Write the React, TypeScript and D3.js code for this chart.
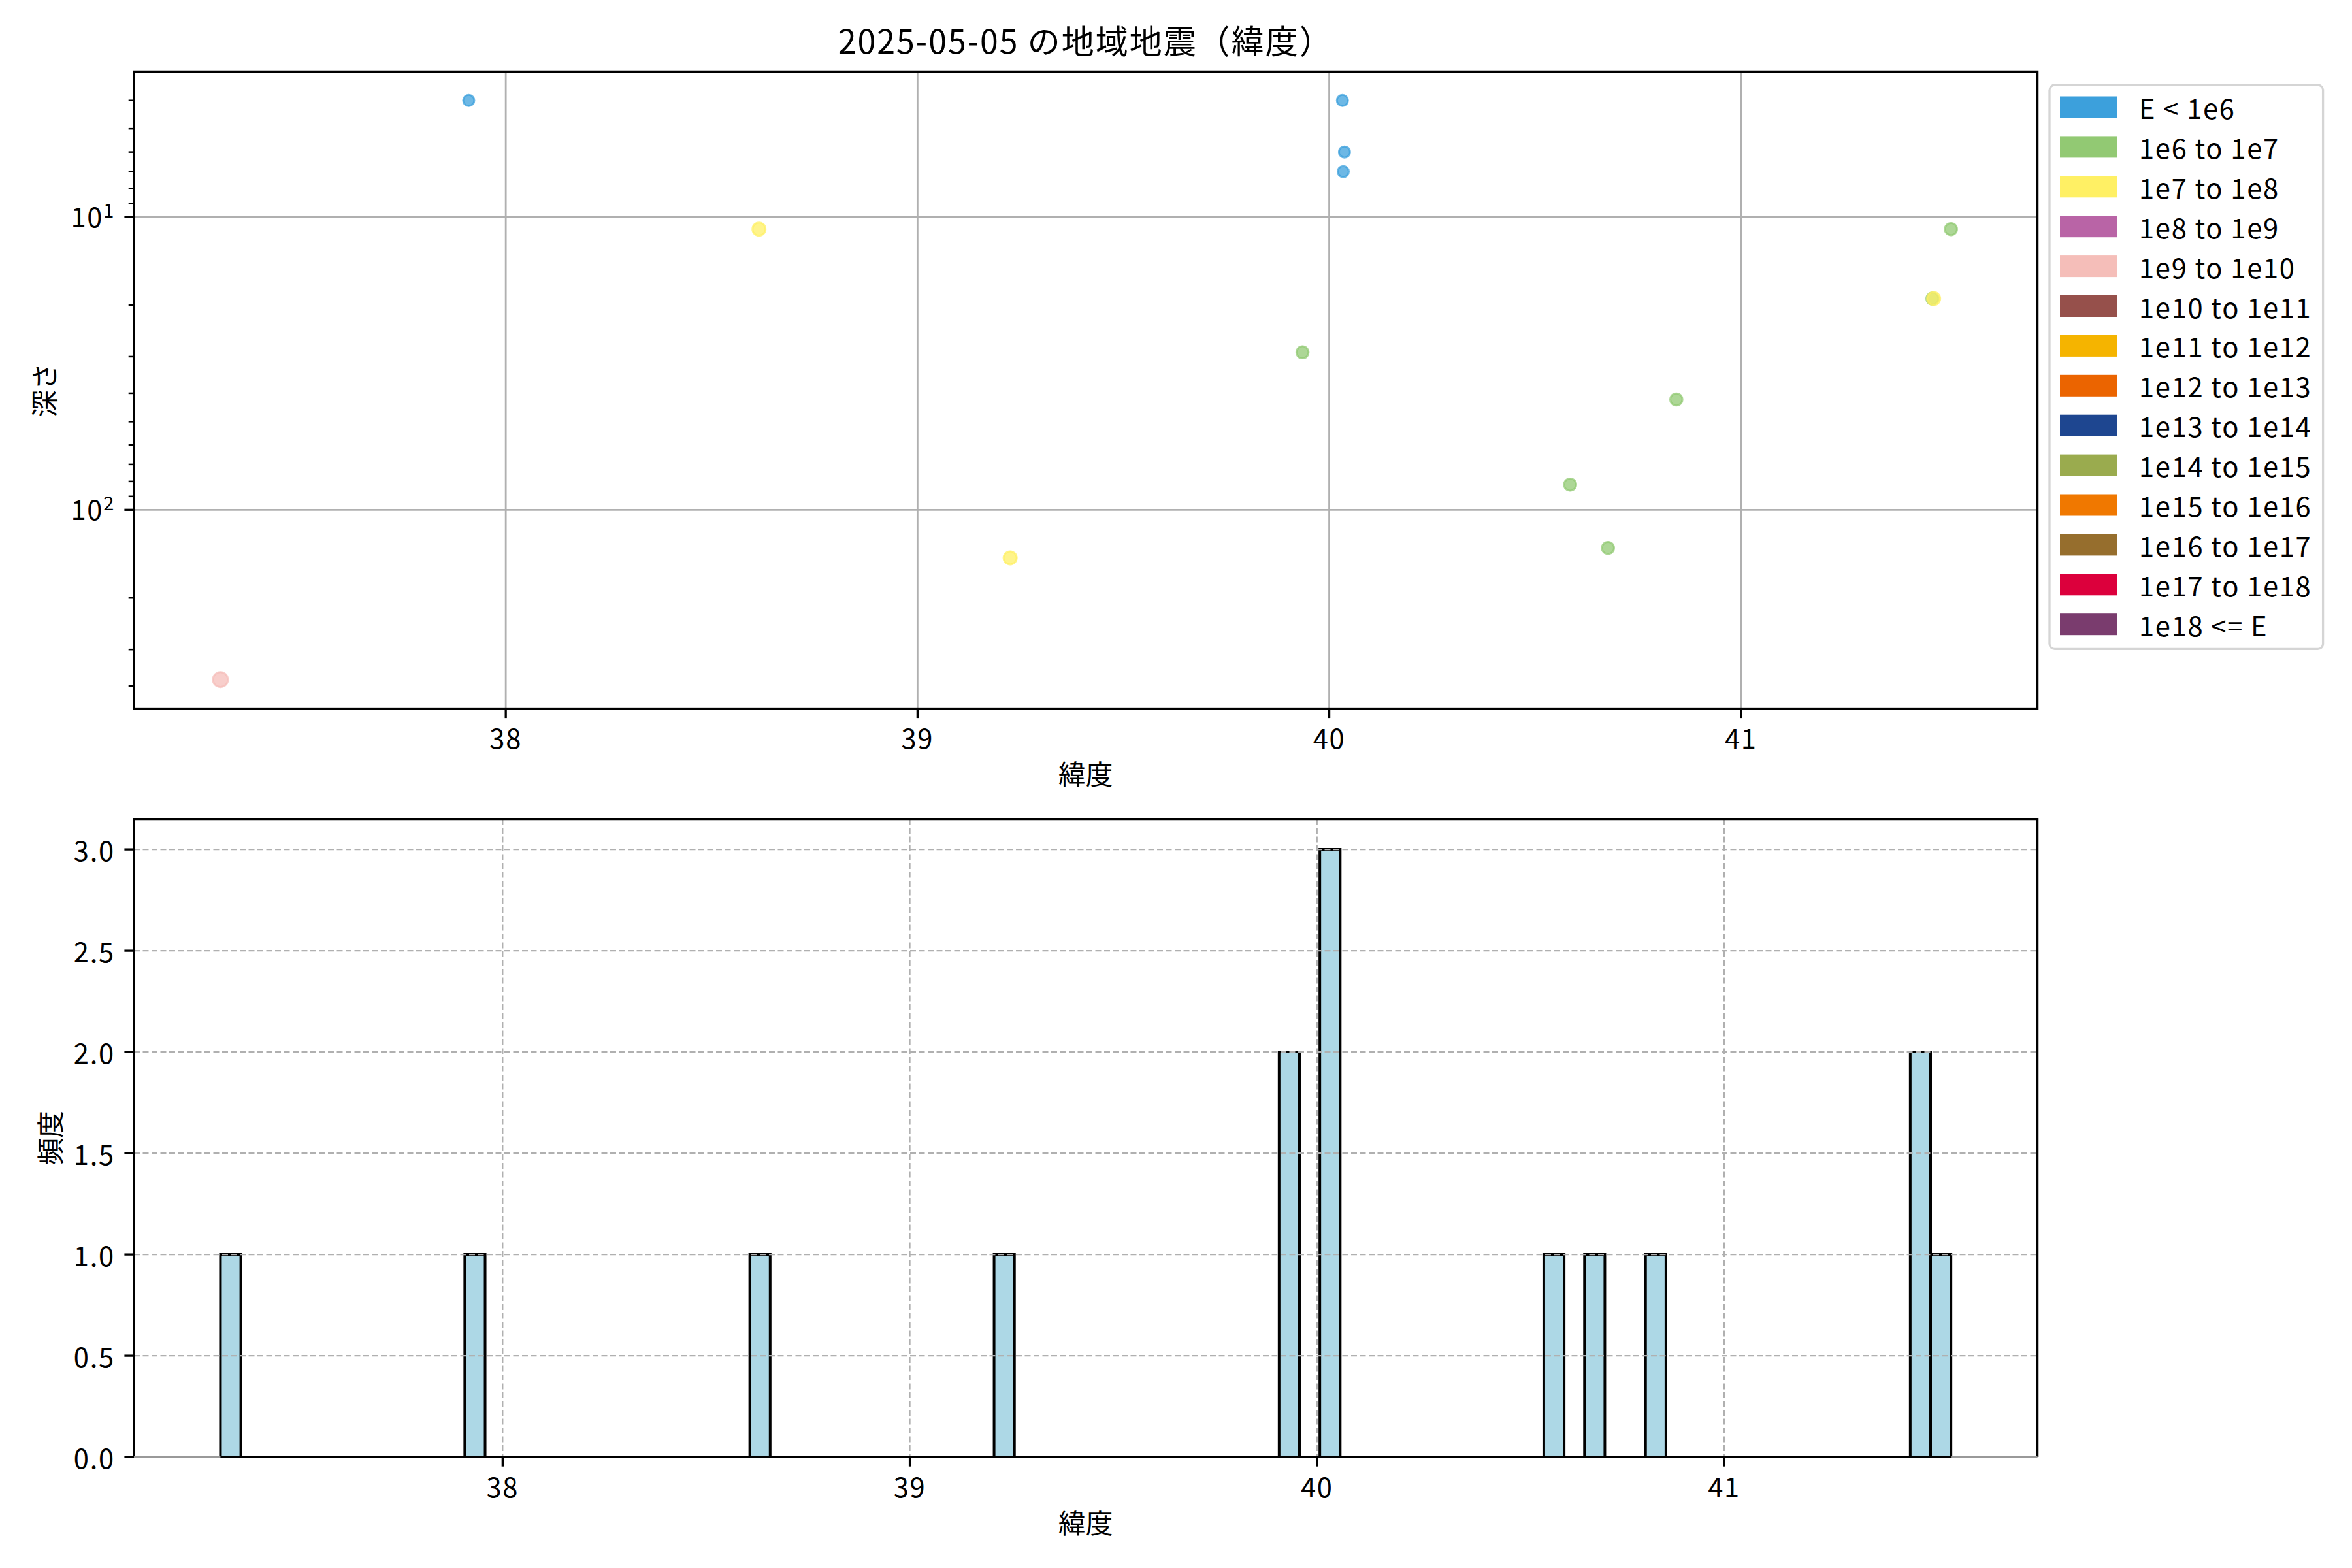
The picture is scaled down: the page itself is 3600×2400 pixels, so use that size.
import * as d3 from "d3";

// energy classes shown in the legend
const energyClasses = [
  "E < 1e6",
  "1e6 to 1e7",
  "1e7 to 1e8",
  "1e8 to 1e9",
  "1e9 to 1e10",
  "1e10 to 1e11",
  "1e11 to 1e12",
  "1e12 to 1e13",
  "1e13 to 1e14",
  "1e14 to 1e15",
  "1e15 to 1e16",
  "1e16 to 1e17",
  "1e17 to 1e18",
  "1e18 <= E",
];
const classColors = [
  "#3ca0dc",
  "#92c973",
  "#fff064",
  "#b964a6",
  "#f5beb9",
  "#96504b",
  "#f5b400",
  "#eb6400",
  "#1e4690",
  "#9aab4e",
  "#f07800",
  "#966e2d",
  "#dc003c",
  "#7a3c6e",
];

// earthquakes of the day (depth 0 cannot be placed on the log axis)
const quakeLat = [
  37.307, 37.91, 38.615, 39.225, 39.935, 39.93, 40.032, 40.037, 40.034,
  40.585, 40.677, 40.843, 41.465, 41.468, 41.51,
];
const quakeDepth = [380, 4, 11, 146, 29, 0, 4, 6, 7, 82, 135, 42, 19, 19, 11];
const quakeClass = [4, 0, 2, 2, 1, 1, 0, 0, 0, 1, 1, 1, 1, 2, 1];

const binWidth = 0.05;
const latTicks = [38, 39, 40, 41];
const depthDecades = [10, 100];
const freqTicks = [0, 0.5, 1.0, 1.5, 2.0, 2.5, 3.0];

const W = 3600;
const H = 2400;
const top = { l: 205, r: 3118.6, t: 109.4, b: 1084.5 };
const bot = { l: 205, r: 3118.6, t: 1253.6, b: 2230.1 };
const FONT = "'Noto Sans CJK JP', 'Noto Sans', sans-serif";
const FS = 41.7;
const LS = 1.7;
const GRID = "#b0b0b0";

const pad = ([a, b]: [number, number]) => {
  const d = (b - a) * 0.05;
  return [a - d, b + d] as [number, number];
};

export default function App() {
  // scatter
  const x1 = d3
    .scaleLinear()
    .domain(pad(d3.extent(quakeLat) as [number, number]))
    .range([top.l, top.r]);
  const shown = d3.range(quakeLat.length).filter((i) => quakeDepth[i] > 0);
  const logExt = pad(
    d3.extent(shown, (i) => Math.log10(quakeDepth[i])) as [number, number],
  );
  const y1 = d3
    .scaleLog()
    .domain([10 ** logExt[0], 10 ** logExt[1]])
    .range([top.t, top.b]);
  const minor: number[] = [];
  for (let e = Math.floor(logExt[0]); e <= Math.ceil(logExt[1]); e++) {
    for (let k = 2; k <= 9; k++) {
      const v = k * 10 ** e;
      if (v >= y1.domain()[0] && v <= y1.domain()[1]) minor.push(v);
    }
  }
  const drawOrder = shown
    .slice()
    .sort((a, b) => quakeClass[a] - quakeClass[b] || a - b);

  // histogram
  const latMin = d3.min(quakeLat) as number;
  const latMax = d3.max(quakeLat) as number;
  const nEdges = Math.ceil((latMax + binWidth - latMin) / binWidth);
  const edges = d3.range(nEdges).map((i) => latMin + i * binWidth);
  const bins = d3
    .bin()
    .domain([edges[0], edges[edges.length - 1]])
    .thresholds(edges.slice(1, -1))(quakeLat);
  const x2 = d3
    .scaleLinear()
    .domain(pad([edges[0], edges[edges.length - 1]]))
    .range([bot.l, bot.r]);
  const maxCount = d3.max(bins, (b) => b.length) as number;
  const y2 = d3
    .scaleLinear()
    .domain([0, maxCount * 1.05])
    .range([bot.b, bot.t]);

  return (
    <svg
      width={W}
      height={H}
      viewBox={`0 0 ${W} ${H}`}
      style={{ position: "absolute", left: 0, top: 0, background: "#fff" }}
      fontFamily={FONT}
    >
      <rect width={W} height={H} fill="#fff" />
      <text
        x={(top.l + top.r) / 2}
        y={82}
        fontSize={50}
        textAnchor="middle"
        letterSpacing={2}
      >
        2025-05-05 の地域地震（緯度）
      </text>

      {/* ---- top: scatter ---- */}
      <g>
        {drawOrder.map((i) => (
          <circle
            key={i}
            cx={x1(quakeLat[i])}
            cy={y1(quakeDepth[i])}
            r={8.5 + 0.75 * quakeClass[i]}
            fill={classColors[quakeClass[i]]}
            fillOpacity={0.75}
            stroke={classColors[quakeClass[i]]}
            strokeOpacity={0.75}
            strokeWidth={3}
          />
        ))}
        {latTicks.map((t) => (
          <line key={t} x1={x1(t)} x2={x1(t)} y1={top.t} y2={top.b} stroke={GRID} strokeWidth={2.8} />
        ))}
        {depthDecades.map((t) => (
          <line key={t} x1={top.l} x2={top.r} y1={y1(t)} y2={y1(t)} stroke={GRID} strokeWidth={2.8} />
        ))}
        <rect
          x={top.l}
          y={top.t}
          width={top.r - top.l}
          height={top.b - top.t}
          fill="none"
          stroke="#000"
          strokeWidth={3.3}
        />
        {latTicks.map((t) => (
          <g key={t}>
            <line x1={x1(t)} x2={x1(t)} y1={top.b} y2={top.b + 14.6} stroke="#000" strokeWidth={3.3} />
            <text x={x1(t)} y={1145.6} fontSize={FS} textAnchor="middle" letterSpacing={LS}>
              {t}
            </text>
          </g>
        ))}
        {minor.map((t) => (
          <line key={t} x1={top.l - 8.3} x2={top.l} y1={y1(t)} y2={y1(t)} stroke="#000" strokeWidth={2.5} />
        ))}
        {depthDecades.map((t) => (
          <g key={t}>
            <line x1={top.l - 14.6} x2={top.l} y1={y1(t)} y2={y1(t)} stroke="#000" strokeWidth={3.3} />
            <text x={176} y={y1(t) + 16} fontSize={FS} textAnchor="end" letterSpacing={LS}>
              10
              <tspan dy={-15} fontSize={29}>
                {Math.round(Math.log10(t))}
              </tspan>
            </text>
          </g>
        ))}
        <text x={(top.l + top.r) / 2} y={1201} fontSize={FS} textAnchor="middle">
          緯度
        </text>
        <text
          transform={`translate(66,${(top.t + top.b) / 2}) rotate(-90)`}
          fontSize={FS}
          textAnchor="middle"
          dominantBaseline="central"
        >
          深さ
        </text>
      </g>

      {/* legend */}
      <g>
        <rect
          x={3137}
          y={130}
          width={418.6}
          height={863.4}
          rx={8}
          fill="#fff"
          fillOpacity={0.8}
          stroke="#d5d5d5"
          strokeWidth={3.3}
        />
        {energyClasses.map((c, i) => (
          <g key={c} transform={`translate(0,${164 + i * 60.9})`}>
            <rect x={3153} y={-16.5} width={87} height={33} fill={classColors[i]} />
            <text x={3274} y={0} fontSize={FS} dominantBaseline="central" letterSpacing={LS}>
              {c}
            </text>
          </g>
        ))}
      </g>

      {/* ---- bottom: histogram ---- */}
      <g>
        {bins.map((b, i) => (
          <path
            key={i}
            d={`M${x2(b.x0!)},${y2(0)}V${y2(b.length)}H${x2(b.x1!)}V${y2(0)}Z`}
            fill="#add8e6"
            stroke="#000"
            strokeWidth={4}
          />
        ))}
        {latTicks.map((t) => (
          <line
            key={t}
            x1={x2(t)}
            x2={x2(t)}
            y1={bot.t}
            y2={bot.b}
            stroke={GRID}
            strokeWidth={2.2}
            strokeDasharray="9,4.5"
          />
        ))}
        {freqTicks
          .filter((t) => t > 0)
          .map((t) => (
            <line
              key={t}
              x1={bot.l}
              x2={bot.r}
              y1={y2(t)}
              y2={y2(t)}
              stroke={GRID}
              strokeWidth={2.2}
              strokeDasharray="9,4.5"
            />
          ))}
        <line
          x1={x2(edges[0])}
          x2={x2(edges[edges.length - 1])}
          y1={bot.b}
          y2={bot.b}
          stroke="#000"
          strokeWidth={4}
        />
        <path
          d={`M${bot.l},${bot.b}V${bot.t}H${bot.r}V${bot.b}`}
          fill="none"
          stroke="#000"
          strokeWidth={3.3}
        />
        <line x1={bot.l} x2={x2(edges[0])} y1={bot.b} y2={bot.b} stroke="#999" strokeWidth={2.2} />
        <line
          x1={x2(edges[edges.length - 1])}
          x2={bot.r}
          y1={bot.b}
          y2={bot.b}
          stroke="#999"
          strokeWidth={2.2}
        />
        {latTicks.map((t) => (
          <g key={t}>
            <line x1={x2(t)} x2={x2(t)} y1={bot.b} y2={bot.b + 14.6} stroke="#000" strokeWidth={3.3} />
            <text x={x2(t)} y={2292} fontSize={FS} textAnchor="middle" letterSpacing={LS}>
              {t}
            </text>
          </g>
        ))}
        {freqTicks.map((t) => (
          <g key={t}>
            <line x1={bot.l - 14.6} x2={bot.l} y1={y2(t)} y2={y2(t)} stroke="#000" strokeWidth={3.3} />
            <text
              x={175.8}
              y={y2(t)}
              fontSize={FS}
              textAnchor="end"
              dominantBaseline="central"
              letterSpacing={LS}
            >
              {t.toFixed(1)}
            </text>
          </g>
        ))}
        <text x={(bot.l + bot.r) / 2} y={2347} fontSize={FS} textAnchor="middle">
          緯度
        </text>
        <text
          transform={`translate(75,${(bot.t + bot.b) / 2}) rotate(-90)`}
          fontSize={FS}
          textAnchor="middle"
          dominantBaseline="central"
        >
          頻度
        </text>
      </g>
    </svg>
  );
}
